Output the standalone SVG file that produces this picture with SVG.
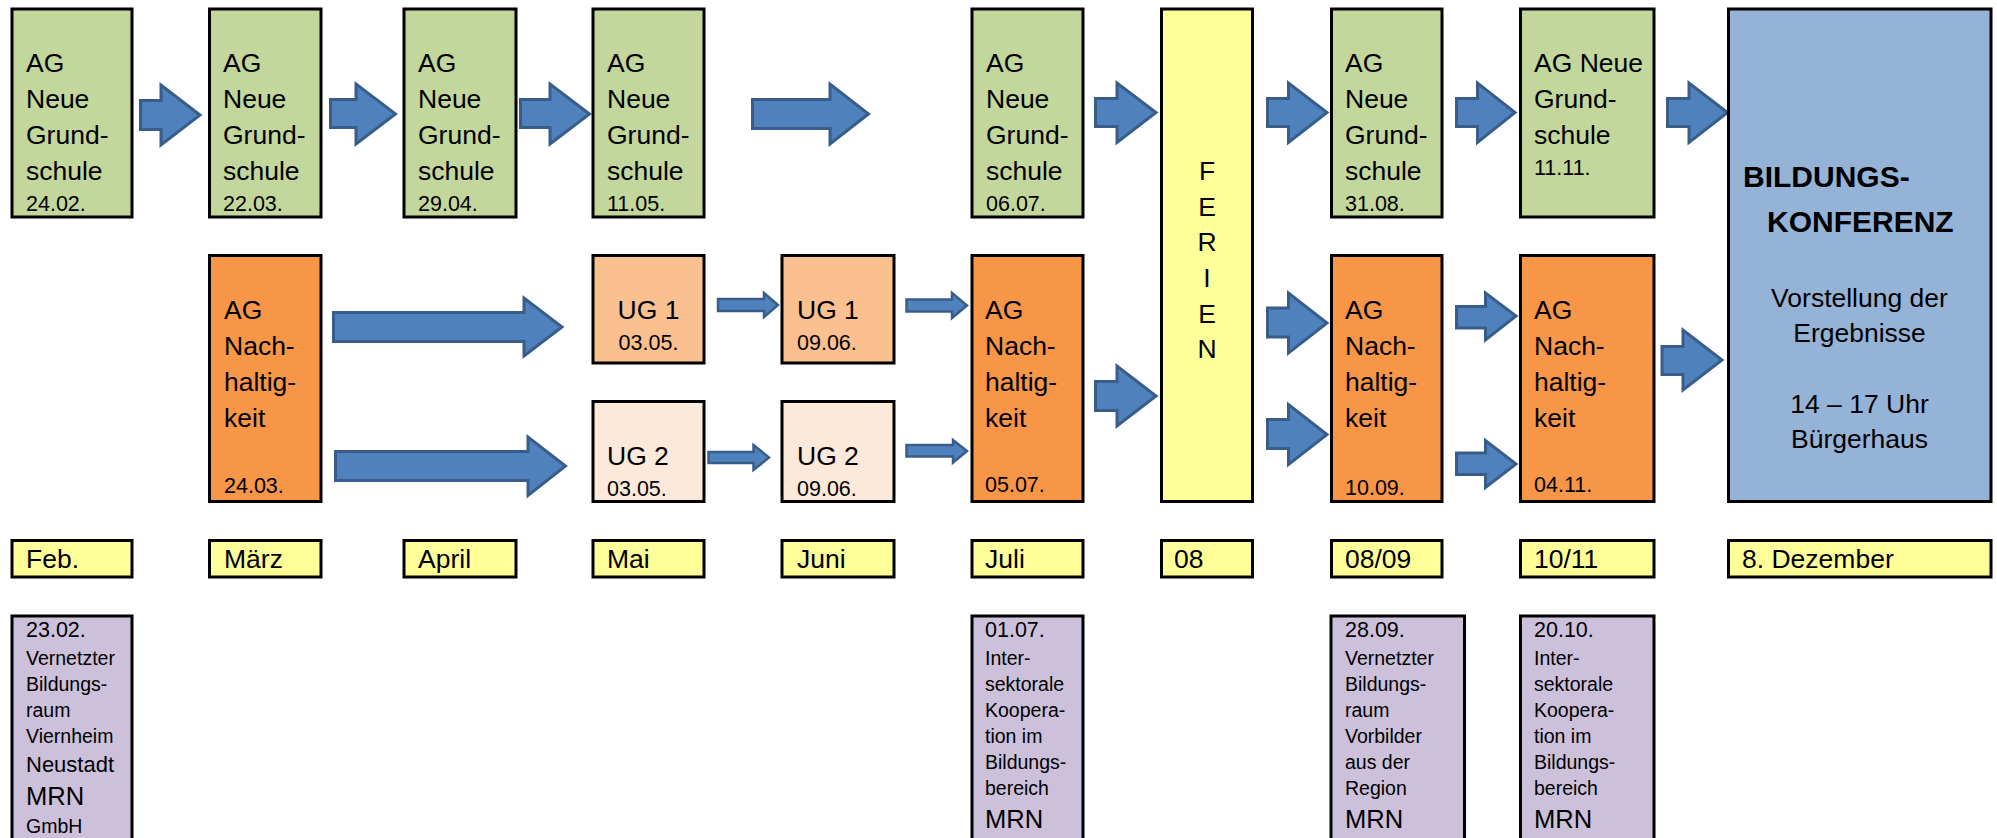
<svg xmlns="http://www.w3.org/2000/svg" width="1997" height="838" viewBox="0 0 1997 838">
<style>
.box{stroke:#000;stroke-width:3}
.g{fill:#C3D69B}
.o{fill:#F79646}
.lo{fill:#FAC090}
.llo{fill:#FDE9D9}
.y{fill:#FFFF99}
.b{fill:#95B3D7}
.p{fill:#CCC0DA}
text{font-family:"Liberation Sans",Arial,sans-serif;fill:#000}
.t{font-size:26.5px}
.d{font-size:21.5px}
.s{font-size:19.5px}
.m{font-size:25.6px}
.n{font-size:22px}
.bold{font-size:30px;font-weight:bold}
.c{text-anchor:middle}
.arr{fill:#4F81BD;stroke:#385D8A;stroke-width:3;stroke-linejoin:miter}
.thin{stroke-width:2.5}
</style>

<g id="connectors">
<polygon class="arr" points="140.5,100.5 161,100.5 161,85 200,115 161,145 161,129.5 140.5,129.5"/>
<polygon class="arr" points="330.5,99.5 356,99.5 356,84 395.5,114 356,144 356,127.5 330.5,127.5"/>
<polygon class="arr" points="520.5,99.5 550,99.5 550,84 589.5,114 550,144 550,127.5 520.5,127.5"/>
<polygon class="arr" points="752.5,99.5 830,99.5 830,84 868.5,114 830,144 830,128.5 752.5,128.5"/>
<polygon class="arr" points="1095.5,98.5 1117,98.5 1117,83 1156,112.5 1117,142.5 1117,126.5 1095.5,126.5"/>
<polygon class="arr" points="1267.5,98.5 1288.5,98.5 1288.5,83 1327,112.5 1288.5,142.5 1288.5,126.5 1267.5,126.5"/>
<polygon class="arr" points="1456.5,98.5 1477.5,98.5 1477.5,83 1515,112.5 1477.5,142.5 1477.5,126.5 1456.5,126.5"/>
<polygon class="arr" points="1667.5,98.5 1689,98.5 1689,83 1727.5,112.5 1689,142.5 1689,126.5 1667.5,126.5"/>

<polygon class="arr" points="333.5,312.5 524,312.5 524,298 562,327 524,356 524,341.5 333.5,341.5"/>
<polygon class="arr" points="335.5,451.5 528,451.5 528,437 565.5,466 528,495.5 528,480.5 335.5,480.5"/>

<polygon class="arr thin" points="718,299 764,299 764,293 778,305 764,317 764,311 718,311"/>
<polygon class="arr thin" points="906.5,299.5 952,299.5 952,293 967,305.5 952,318 952,311.5 906.5,311.5"/>
<polygon class="arr thin" points="708.5,452 753.5,452 753.5,445 769,457.5 753.5,470 753.5,463 708.5,463"/>
<polygon class="arr thin" points="906.5,445 953,445 953,440 967,451 953,462.5 953,456.5 906.5,456.5"/>

<polygon class="arr" points="1095.5,381.5 1117,381.5 1117,366 1156,396 1117,426 1117,410.5 1095.5,410.5"/>
<polygon class="arr" points="1267.5,308 1288.5,308 1288.5,293 1327,323 1288.5,353 1288.5,337 1267.5,337"/>
<polygon class="arr" points="1267.5,419.5 1288.5,419.5 1288.5,404.5 1327,434.5 1288.5,464.5 1288.5,448.5 1267.5,448.5"/>
<polygon class="arr" points="1456.5,306.5 1485.5,306.5 1485.5,293 1516,316 1485.5,340 1485.5,328 1456.5,328"/>
<polygon class="arr" points="1456.5,453 1485.5,453 1485.5,440.5 1516,464 1485.5,487.5 1485.5,474.5 1456.5,474.5"/>
<polygon class="arr" points="1662,346.5 1683,346.5 1683,330 1722,360 1683,390 1683,374.5 1662,374.5"/>
</g>

<g id="ag-ng-2402">
<rect class="box g" x="12" y="9" width="120" height="208"/>
<text class="t" x="26" y="72">AG</text>
<text class="t" x="26" y="108">Neue</text>
<text class="t" x="26" y="144">Grund-</text>
<text class="t" x="26" y="180">schule</text>
<text class="d" x="26" y="211">24.02.</text>
</g>
<g id="ag-ng-2203">
<rect class="box g" x="209.5" y="9" width="111.5" height="208"/>
<text class="t" x="223" y="72">AG</text>
<text class="t" x="223" y="108">Neue</text>
<text class="t" x="223" y="144">Grund-</text>
<text class="t" x="223" y="180">schule</text>
<text class="d" x="223" y="211">22.03.</text>
</g>
<g id="ag-ng-2904">
<rect class="box g" x="404" y="9" width="112" height="208"/>
<text class="t" x="418" y="72">AG</text>
<text class="t" x="418" y="108">Neue</text>
<text class="t" x="418" y="144">Grund-</text>
<text class="t" x="418" y="180">schule</text>
<text class="d" x="418" y="211">29.04.</text>
</g>
<g id="ag-ng-1105">
<rect class="box g" x="593" y="9" width="111" height="208"/>
<text class="t" x="607" y="72">AG</text>
<text class="t" x="607" y="108">Neue</text>
<text class="t" x="607" y="144">Grund-</text>
<text class="t" x="607" y="180">schule</text>
<text class="d" x="607" y="211">11.05.</text>
</g>
<g id="ag-ng-0607">
<rect class="box g" x="972" y="9" width="111" height="208"/>
<text class="t" x="986" y="72">AG</text>
<text class="t" x="986" y="108">Neue</text>
<text class="t" x="986" y="144">Grund-</text>
<text class="t" x="986" y="180">schule</text>
<text class="d" x="986" y="211">06.07.</text>
</g>
<g id="ferien">
<rect class="box y" x="1161.5" y="9" width="91" height="492.5"/>
<text class="t c" x="1207" y="180">F</text>
<text class="t c" x="1207" y="216">E</text>
<text class="t c" x="1207" y="251">R</text>
<text class="t c" x="1207" y="287">I</text>
<text class="t c" x="1207" y="323">E</text>
<text class="t c" x="1207" y="358">N</text>
</g>
<g id="ag-ng-3108">
<rect class="box g" x="1331.5" y="9" width="110.5" height="208"/>
<text class="t" x="1345" y="72">AG</text>
<text class="t" x="1345" y="108">Neue</text>
<text class="t" x="1345" y="144">Grund-</text>
<text class="t" x="1345" y="180">schule</text>
<text class="d" x="1345" y="211">31.08.</text>
</g>
<g id="ag-ng-1111">
<rect class="box g" x="1520.5" y="9" width="133.5" height="208"/>
<text class="t" x="1534" y="72">AG Neue</text>
<text class="t" x="1534" y="108">Grund-</text>
<text class="t" x="1534" y="144">schule</text>
<text class="d" x="1534" y="175">11.11.</text>
</g>
<g id="bildungskonferenz">
<rect class="box b" x="1728.5" y="9" width="262.5" height="492.5"/>
<text class="bold" x="1743" y="187">BILDUNGS-</text>
<text class="bold" x="1767" y="232">KONFERENZ</text>
<text class="t c" x="1859.5" y="307">Vorstellung der</text>
<text class="t c" x="1859.5" y="342">Ergebnisse</text>
<text class="t c" x="1859.5" y="413">14 – 17 Uhr</text>
<text class="t c" x="1859.5" y="448">Bürgerhaus</text>
</g>

<g id="ag-nh-2403">
<rect class="box o" x="209.5" y="255.5" width="111.5" height="246"/>
<text class="t" x="224" y="319">AG</text>
<text class="t" x="224" y="355">Nach-</text>
<text class="t" x="224" y="391">haltig-</text>
<text class="t" x="224" y="427">keit</text>
<text class="d" x="224" y="493">24.03.</text>
</g>
<g id="ug1-0305">
<rect class="box lo" x="593" y="255.5" width="111" height="107.5"/>
<text class="t c" x="648.5" y="319">UG 1</text>
<text class="d c" x="648.5" y="350">03.05.</text>
</g>
<g id="ug1-0906">
<rect class="box lo" x="782" y="255.5" width="112" height="107.5"/>
<text class="t" x="797" y="319">UG 1</text>
<text class="d" x="797" y="350">09.06.</text>
</g>
<g id="ug2-0305">
<rect class="box llo" x="593" y="401.5" width="111" height="100"/>
<text class="t" x="607" y="465">UG 2</text>
<text class="d" x="607" y="496">03.05.</text>
</g>
<g id="ug2-0906">
<rect class="box llo" x="782" y="401.5" width="112" height="100"/>
<text class="t" x="797" y="465">UG 2</text>
<text class="d" x="797" y="496">09.06.</text>
</g>
<g id="ag-nh-0507">
<rect class="box o" x="972" y="255.5" width="111" height="246"/>
<text class="t" x="985" y="319">AG</text>
<text class="t" x="985" y="355">Nach-</text>
<text class="t" x="985" y="391">haltig-</text>
<text class="t" x="985" y="427">keit</text>
<text class="d" x="985" y="492">05.07.</text>
</g>
<g id="ag-nh-1009">
<rect class="box o" x="1331.5" y="255.5" width="110.5" height="246"/>
<text class="t" x="1345" y="319">AG</text>
<text class="t" x="1345" y="355">Nach-</text>
<text class="t" x="1345" y="391">haltig-</text>
<text class="t" x="1345" y="427">keit</text>
<text class="d" x="1345" y="495">10.09.</text>
</g>
<g id="ag-nh-0411">
<rect class="box o" x="1520.5" y="255.5" width="133.5" height="246"/>
<text class="t" x="1534" y="319">AG</text>
<text class="t" x="1534" y="355">Nach-</text>
<text class="t" x="1534" y="391">haltig-</text>
<text class="t" x="1534" y="427">keit</text>
<text class="d" x="1534" y="492">04.11.</text>
</g>

<g id="m-feb"><rect class="box y" x="12" y="540.5" width="120" height="36.5"/><text class="t" x="26" y="568">Feb.</text></g>
<g id="m-maerz"><rect class="box y" x="209.5" y="540.5" width="111.5" height="36.5"/><text class="t" x="224" y="568">März</text></g>
<g id="m-april"><rect class="box y" x="404" y="540.5" width="112" height="36.5"/><text class="t" x="418" y="568">April</text></g>
<g id="m-mai"><rect class="box y" x="593" y="540.5" width="111" height="36.5"/><text class="t" x="607" y="568">Mai</text></g>
<g id="m-juni"><rect class="box y" x="782" y="540.5" width="112" height="36.5"/><text class="t" x="797" y="568">Juni</text></g>
<g id="m-juli"><rect class="box y" x="972" y="540.5" width="111" height="36.5"/><text class="t" x="985" y="568">Juli</text></g>
<g id="m-08"><rect class="box y" x="1161.5" y="540.5" width="91" height="36.5"/><text class="t" x="1174" y="568">08</text></g>
<g id="m-0809"><rect class="box y" x="1331.5" y="540.5" width="110.5" height="36.5"/><text class="t" x="1345" y="568">08/09</text></g>
<g id="m-1011"><rect class="box y" x="1520.5" y="540.5" width="133.5" height="36.5"/><text class="t" x="1534" y="568">10/11</text></g>
<g id="m-dez"><rect class="box y" x="1728.5" y="540.5" width="262.5" height="36.5"/><text class="t" x="1742" y="568">8. Dezember</text></g>

<g id="ev-2302">
<rect class="box p" x="12" y="616" width="120" height="240"/>
<text class="d" x="26" y="637">23.02.</text>
<text class="s" x="26" y="665">Vernetzter</text>
<text class="s" x="26" y="691">Bildungs-</text>
<text class="s" x="26" y="717">raum</text>
<text class="s" x="26" y="743">Viernheim</text>
<text class="n" x="26" y="772">Neustadt</text>
<text class="m" x="26" y="805">MRN</text>
<text class="s" x="26" y="833">GmbH</text>
</g>
<g id="ev-0107">
<rect class="box p" x="972" y="616" width="111" height="240"/>
<text class="d" x="985" y="637">01.07.</text>
<text class="s" x="985" y="665">Inter-</text>
<text class="s" x="985" y="691">sektorale</text>
<text class="s" x="985" y="717">Koopera-</text>
<text class="s" x="985" y="743">tion im</text>
<text class="s" x="985" y="769">Bildungs-</text>
<text class="s" x="985" y="795">bereich</text>
<text class="m" x="985" y="828">MRN</text>
</g>
<g id="ev-2809">
<rect class="box p" x="1331" y="616" width="133.5" height="240"/>
<text class="d" x="1345" y="637">28.09.</text>
<text class="s" x="1345" y="665">Vernetzter</text>
<text class="s" x="1345" y="691">Bildungs-</text>
<text class="s" x="1345" y="717">raum</text>
<text class="s" x="1345" y="743">Vorbilder</text>
<text class="s" x="1345" y="769">aus der</text>
<text class="s" x="1345" y="795">Region</text>
<text class="m" x="1345" y="828">MRN</text>
</g>
<g id="ev-2010">
<rect class="box p" x="1520.5" y="616" width="133.5" height="240"/>
<text class="d" x="1534" y="637">20.10.</text>
<text class="s" x="1534" y="665">Inter-</text>
<text class="s" x="1534" y="691">sektorale</text>
<text class="s" x="1534" y="717">Koopera-</text>
<text class="s" x="1534" y="743">tion im</text>
<text class="s" x="1534" y="769">Bildungs-</text>
<text class="s" x="1534" y="795">bereich</text>
<text class="m" x="1534" y="828">MRN</text>
</g>
</svg>
